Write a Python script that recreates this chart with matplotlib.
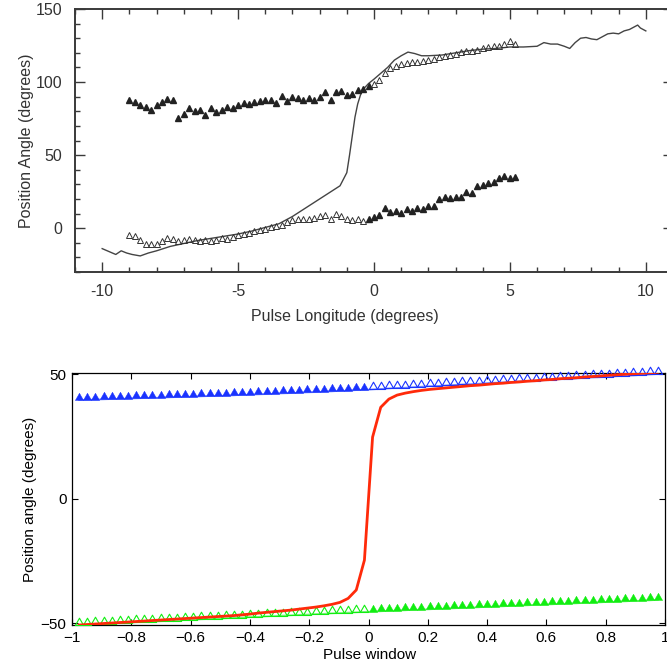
import numpy as np
import matplotlib
matplotlib.use("Agg")
import matplotlib.pyplot as plt
from matplotlib.path import Path
from matplotlib.ticker import MultipleLocator, FixedLocator, FixedFormatter

# ---------------- top panel data (Pulse Longitude, degrees) ----------------
top_x_markers = np.round(np.arange(-9.0, 5.21, 0.2), 1)
top_upper = [87.5, 86.5, 84.5, 83.0, 81.0, 84.0, 86.5, 88.5, 87.5, 75.5,
             78.0, 82.5, 80.0, 81.0, 77.5, 82.0, 79.5, 81.0, 83.0, 82.5,
             84.0, 85.5, 85.0, 86.5, 87.0, 88.0, 87.5, 85.5, 90.5, 87.0,
             90.0, 89.0, 88.0, 89.0, 88.0, 90.0, 93.0, 88.0, 93.0, 94.0,
             91.0, 92.0, 94.5, 95.5, 97.5, 99.0, 101.5, 106.0, 109.5, 111.0,
             112.5, 113.0, 113.5, 114.0, 114.5, 115.0, 116.0, 117.0, 117.5, 118.5,
             119.5, 120.5, 121.0, 121.5, 122.0, 123.0, 124.0, 124.5, 125.0, 126.0,
             128.0, 126.0]
top_lower = [-4.5, -5.5, -8.0, -10.5, -11.0, -11.0, -9.0, -6.5, -7.5, -8.5,
             -8.0, -7.5, -8.0, -8.5, -8.0, -9.0, -8.0, -6.5, -7.5, -6.0,
             -5.0, -4.0, -3.0, -2.0, -1.5, -0.5, 0.5, 1.5, 2.5, 4.5,
             5.5, 6.0, 6.5, 6.5, 7.0, 8.0, 9.0, 6.5, 9.5, 8.0,
             6.0, 5.5, 6.0, 5.0, 6.5, 7.5, 9.0, 13.5, 11.0, 12.0,
             10.5, 13.0, 12.0, 14.0, 13.0, 15.5, 15.0, 20.0, 21.0, 20.5,
             21.5, 21.0, 24.5, 24.0, 29.0, 29.5, 31.0, 31.5, 34.0, 35.5,
             34.5, 35.0]
top_line_x = [-10.0, -9.75, -9.5, -9.3, -9.1, -8.9, -8.6, -8.3, -8.0, -7.75,
              -7.5, -7.25, -7.0, -6.5, -6.0, -5.5, -5.0, -4.5, -4.0, -3.5,
              -3.0, -2.5, -2.0, -1.5, -1.25, -1.0, -0.9, -0.8, -0.7, -0.6,
              -0.5, -0.4, -0.2, 0.0, 0.25, 0.5, 0.75, 1.0, 1.25, 1.5,
              1.75, 2.0, 2.5, 3.0, 3.5, 4.0, 4.5, 5.0, 5.5, 6.0,
              6.25, 6.5, 6.75, 7.0, 7.2, 7.4, 7.6, 7.8, 8.0, 8.2,
              8.4, 8.6, 8.8, 9.0, 9.2, 9.4, 9.6, 9.7, 9.8, 10.0]
top_line_y = [-14, -16, -18, -15.5, -17, -18, -19, -17, -15.5, -14,
              -12.5, -11.5, -10.5, -8.5, -7, -5.5, -4, -2, 0.5, 3,
              8, 14, 20, 26, 29, 38, 50, 63, 76, 85,
              91, 95, 99, 102, 106, 110, 115, 118, 120.5, 119.5,
              118, 118, 118.5, 120, 121.5, 122.5, 123, 124, 124, 124.5,
              127, 126, 126, 124.5, 123, 127, 130, 130.5, 129.5, 129,
              131, 133, 133.5, 133, 135, 136, 138, 139, 137, 135]
top_xticks = [-10, -5, 0, 5, 10]
top_xticklabels = ['-10', '-5', '0', '5', '10']
top_yticks = [0, 50, 100, 150]
top_yticklabels = ['0', '50', '100', '150']

# ---------------- bottom panel data (Pulse window) ----------------
bot_x = np.linspace(-0.976, 0.976, 72)
bot_red = [-50.8, -50.6, -50.4, -50.2, -50.0, -49.8, -49.6, -49.4, -49.2, -49.0,
           -48.8, -48.6, -48.4, -48.2, -48.0, -47.8, -47.6, -47.4, -47.2, -47.0,
           -46.7, -46.4, -46.0, -45.7, -45.4, -45.1, -44.8, -44.4, -44.0, -43.6,
           -43.1, -42.5, -41.7, -40.1, -36.7, -24.7,
           24.8, 36.8, 40.1, 41.7, 42.5, 43.1, 43.6, 44.0, 44.3, 44.6,
           44.9, 45.2, 45.5, 45.7, 46.0, 46.3, 46.5, 46.8, 47.0, 47.3,
           47.5, 47.8, 48.0, 48.3, 48.5, 48.7, 49.0, 49.2, 49.4, 49.7,
           49.9, 50.1, 50.3, 50.5, 50.7, 50.9]
bot_blue = [39.7, 39.8, 39.9, 40.0, 40.1, 40.2, 40.3, 40.4, 40.5, 40.6,
            40.7, 40.8, 40.9, 41.0, 41.1, 41.2, 41.3, 41.4, 41.5, 41.6,
            41.8, 41.9, 42.0, 42.1, 42.3, 42.4, 42.5, 42.7, 42.8, 42.9,
            43.1, 43.2, 43.4, 43.5, 43.7, 43.8,
            44.0, 44.2, 44.4, 44.6, 44.7, 44.9, 45.1, 45.3, 45.4, 45.6,
            45.8, 46.0, 46.1, 46.3, 46.5, 46.7, 46.8, 47.0, 47.2, 47.4,
            47.5, 47.7, 47.9, 48.1, 48.2, 48.4, 48.6, 48.8, 48.9, 49.1,
            49.3, 49.5, 49.6, 49.8, 50.0, 50.2]
bot_green = [-50.8, -50.6, -50.5, -50.3, -50.2, -50.0, -49.9, -49.7, -49.6, -49.4,
             -49.3, -49.1, -49.0, -48.8, -48.7, -48.5, -48.4, -48.2, -48.1, -47.9,
             -47.8, -47.6, -47.5, -47.3, -47.2, -47.0, -46.9, -46.7, -46.6, -46.4,
             -46.3, -46.1, -46.0, -45.8, -45.7, -45.5,
             -45.4, -45.3, -45.1, -45.0, -44.9, -44.7, -44.6, -44.5, -44.3, -44.2,
             -44.1, -43.9, -43.8, -43.7, -43.5, -43.4, -43.3, -43.1, -43.0, -42.9,
             -42.7, -42.6, -42.5, -42.3, -42.2, -42.1, -41.9, -41.8, -41.7, -41.5,
             -41.4, -41.3, -41.1, -41.0, -40.9, -40.7]
bot_xticks = [-1, -0.8, -0.6, -0.4, -0.2, 0, 0.2, 0.4, 0.6, 0.8, 1]
bot_xticklabels = ['\u22121', '\u22120.8', '\u22120.6', '\u22120.4', '\u22120.2',
                   '0', '0.2', '0.4', '0.6', '0.8', '1']
bot_yticks = [-50, 0, 50]
bot_yticklabels = ['\u221250', '0', '50']

W, H = 667, 663
fig = plt.figure(figsize=(W / 100, H / 100), dpi=100)
plt.rcParams['font.family'] = ['Liberation Sans', 'DejaVu Sans']

def frac(l, t, r, b):
    return [l / W, 1 - b / H, (r - l) / W, (b - t) / H]

# ================= top panel =================
gray = '#3a3a3a'
ax1 = fig.add_axes(frac(75, 9, 673, 272))
ax1.set_xlim(-11, 11)
ax1.set_ylim(-30, 150)
tx = np.asarray(top_x_markers)
tu = np.asarray(top_upper)
tl = np.asarray(top_lower)
ax1.plot(top_line_x, top_line_y, color='#444444', lw=1.0, zorder=2)
m_up_f = tx <= -0.2
m_lo_o = tx <= -0.4
ax1.plot(tx[m_up_f], tu[m_up_f], ls='none', marker='^', ms=3.8,
         color='#222222', mec='#222222', zorder=3)
ax1.plot(tx[~m_up_f], tu[~m_up_f], ls='none', marker='^', ms=4.2,
         mfc='none', mec='#333333', mew=0.7, zorder=3)
ax1.plot(tx[m_lo_o], tl[m_lo_o], ls='none', marker='^', ms=4.2,
         mfc='none', mec='#333333', mew=0.7, zorder=3)
ax1.plot(tx[~m_lo_o], tl[~m_lo_o], ls='none', marker='^', ms=3.8,
         color='#222222', mec='#222222', zorder=3)
ax1.xaxis.set_major_locator(FixedLocator(top_xticks))
ax1.xaxis.set_major_formatter(FixedFormatter(top_xticklabels))
ax1.xaxis.set_minor_locator(MultipleLocator(1))
ax1.yaxis.set_major_locator(FixedLocator(top_yticks))
ax1.yaxis.set_major_formatter(FixedFormatter(top_yticklabels))
ax1.yaxis.set_minor_locator(MultipleLocator(10))
ax1.tick_params(which='both', direction='in', top=True, right=True,
                color=gray, labelcolor='#333333', labelsize=11.5, width=1.0)
ax1.tick_params(which='major', length=7, pad=9)
ax1.tick_params(which='minor', length=3.5)
for s in ax1.spines.values():
    s.set_color(gray)
    s.set_linewidth(1.4)
ax1.set_xlabel('Pulse Longitude (degrees)', fontsize=11.5, color='#333333')
ax1.set_ylabel('Position Angle (degrees)', fontsize=11.5, color='#333333')
ax1.xaxis.set_label_coords(0.452, -0.14)
ax1.yaxis.set_label_coords(-0.069, 0.5)

# ================= bottom panel =================
ax2 = fig.add_axes(frac(72, 373, 665, 625))
ax2.set_xlim(-1, 1)
ax2.set_ylim(-50.8, 50.6)
bx = np.asarray(bot_x)
bb = np.asarray(bot_blue)
bg = np.asarray(bot_green)
tri = Path([(-0.57, 0.0), (0.57, 0.0), (0.0, 1.0), (-0.57, 0.0)],
           [Path.MOVETO, Path.LINETO, Path.LINETO, Path.CLOSEPOLY])
neg = bx < 0
blue = '#1a33ff'
green = '#11ee11'
ax2.plot(bx, bb, color='#6f86ff', lw=1.2, zorder=2)
ax2.plot(bx, bg, color='#77f077', lw=1.2, zorder=2)
ax2.plot(bx[neg], bb[neg], ls='none', marker=tri, ms=10.5, mfc=blue, mec=blue,
         mew=0.3, zorder=3, clip_on=False)
ax2.plot(bx[~neg], bb[~neg], ls='none', marker=tri, ms=10.5, mfc='none', mec=blue,
         mew=0.8, zorder=3, clip_on=False)
ax2.plot(bx[neg], bg[neg], ls='none', marker=tri, ms=10.5, mfc='none', mec=green,
         mew=0.8, zorder=3, clip_on=False)
ax2.plot(bx[~neg], bg[~neg], ls='none', marker=tri, ms=10.5, mfc=green, mec=green,
         mew=0.3, zorder=3, clip_on=False)
ax2.plot(bx, bot_red, color='#ff2a0a', lw=2.0, zorder=4)
ax2.xaxis.set_major_locator(FixedLocator(bot_xticks))
ax2.xaxis.set_major_formatter(FixedFormatter(bot_xticklabels))
ax2.yaxis.set_major_locator(FixedLocator(bot_yticks))
ax2.yaxis.set_major_formatter(FixedFormatter(bot_yticklabels))
ax2.tick_params(direction='in', top=True, right=True, length=4.5, width=0.8,
                labelsize=11, pad=4)
for s in ax2.spines.values():
    s.set_linewidth(0.9)
ax2.set_xlabel('Pulse window', fontsize=11, labelpad=0)
ax2.set_ylabel('Position angle (degrees)', fontsize=11)
ax2.xaxis.set_label_coords(0.502, -0.09)
ax2.yaxis.set_label_coords(-0.059, 0.5)

fig.savefig('out.png', dpi=100)
